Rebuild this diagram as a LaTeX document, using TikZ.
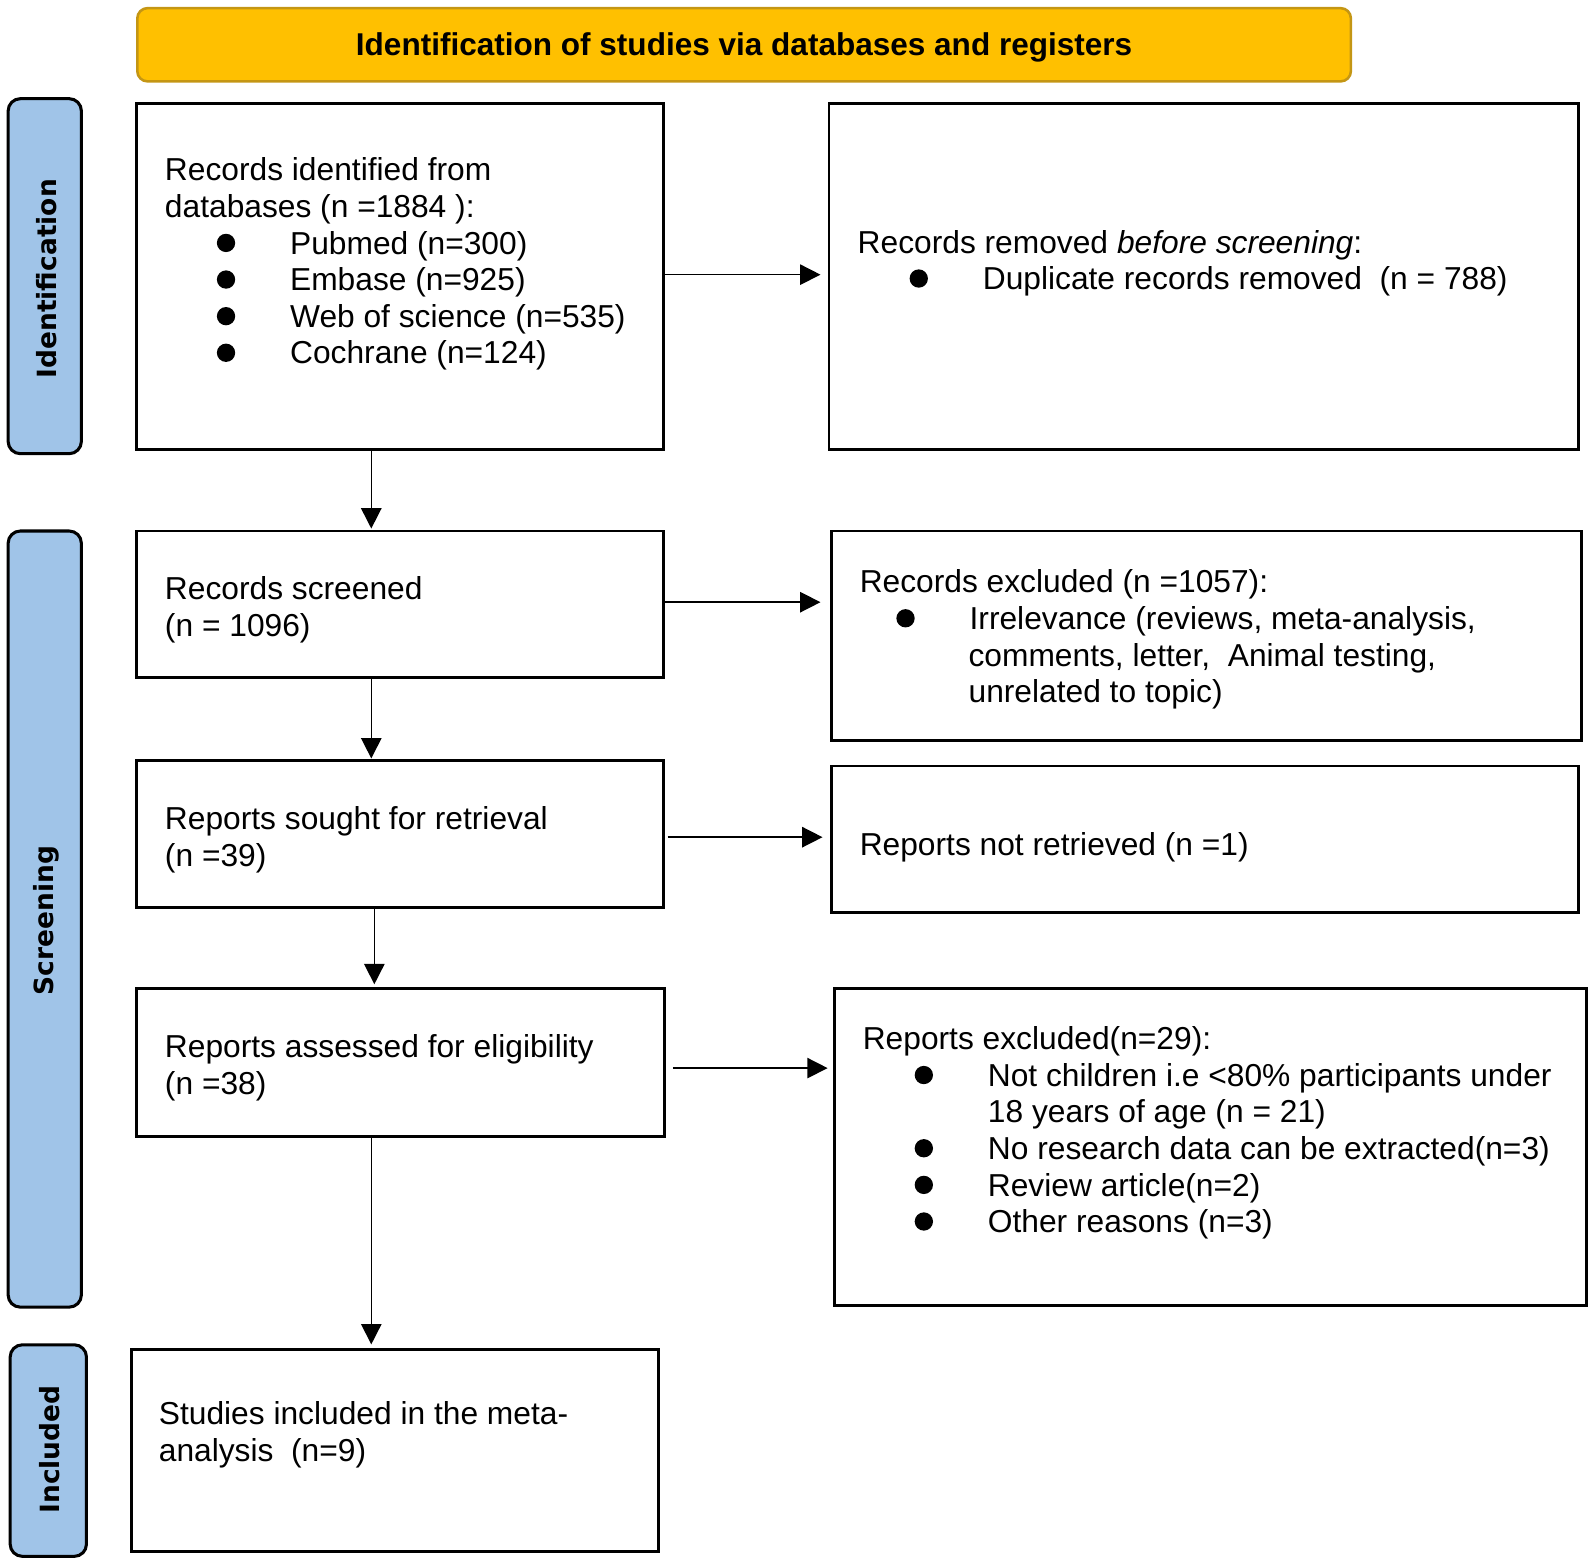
\documentclass[tikz,border=0pt]{standalone}
\usepackage{fontspec}
\setmainfont{Liberation Sans}
\newfontfamily\sidefont{DejaVu Sans}
\usetikzlibrary{arrows.meta}
\definecolor{hdrfill}{RGB}{255,192,0}
\definecolor{hdrline}{RGB}{196,150,20}
\definecolor{sidefill}{RGB}{160,196,232}
\newcommand\bitem[1][51pt]{\hspace*{#1}\makebox[72pt][l]{\raisebox{2pt}{\tikz\fill (0,0) circle[radius=9pt];}}}
\begin{document}
\begin{tikzpicture}[x=1pt,y=-1pt,
  box/.style={draw=black, line width=2.8pt, inner sep=0pt, fill=white},
  txt/.style={font=\fontsize{31.2}{36}\selectfont, align=left, inner sep=0pt, anchor=north west},
  side/.style={draw=black, line width=3pt, rounded corners=12pt, fill=sidefill, inner sep=0pt},
  sidelbl/.style={font=\sidefont\bfseries\fontsize{26}{30}\selectfont, rotate=90, inner sep=0pt},
  arr/.style={line width=1.5pt, -{Triangle[length=20pt,width=20pt]}}]
\useasboundingbox (0,0) rectangle (1568,1540);
% header
\node[draw=hdrline, line width=2.5pt, fill=hdrfill, rounded corners=10pt, minimum width=1193pt, minimum height=72pt, inner sep=0pt] (hdr) at (731.5,44) {};
\node[font=\bfseries\fontsize{31}{36}\selectfont, inner sep=0pt] (hdrt) at (731.5,47) {Identification of studies via databases and registers};
% side bars
\node[side, minimum width=72pt, minimum height=349pt] (sid) at (44,271.5) {};
\node[sidelbl] (sidt) at (46,274) {Identification};
\node[side, minimum width=72pt, minimum height=763pt] (sscr) at (44,903.5) {};
\node[sidelbl] (sscrt) at (46,905) {Screening};
\node[side, minimum width=75pt, minimum height=208pt] (sinc) at (47.5,1426) {};
\node[sidelbl] (sinct) at (49,1425) {Included};
% boxes
\node[box, minimum width=518pt, minimum height=340pt] (b1) at (393,272) {};
\node[box, minimum width=737pt, minimum height=340pt] (r1) at (1183.5,272) {};
\node[box, minimum width=518pt, minimum height=144pt] (b2) at (393,594) {};
\node[box, minimum width=738pt, minimum height=206pt] (r2) at (1186,625) {};
\node[box, minimum width=518pt, minimum height=144pt] (b3) at (393,820) {};
\node[box, minimum width=735pt, minimum height=144pt] (r3) at (1184.5,825) {};
\node[box, minimum width=519pt, minimum height=145pt] (b4) at (393.5,1044.5) {};
\node[box, minimum width=740pt, minimum height=311pt] (r4) at (1190,1127.5) {};
\node[box, minimum width=518pt, minimum height=198pt] (b5) at (388,1426) {};
% texts
\node[txt] (b1t) at (162,155) {Records identified from\\databases (n =1884 ):\\
\bitem Pubmed (n=300)\\\bitem Embase (n=925)\\\bitem Web of science (n=535)\\\bitem Cochrane (n=124)};
\node[txt] (r1t) at (843,226) {Records removed \textit{before screening}:\\
\bitem Duplicate records removed\ \ (n = 788)};
\node[txt] (b2t) at (162,567) {Records screened\\(n = 1096)};
\node[txt] (r2t) at (845,560) {Records excluded (n =1057):\\
\bitem[36pt]Irrelevance (reviews, meta-analysis,\\\hspace*{107pt}comments, letter,\ \ Animal testing,\\\hspace*{107pt}unrelated to topic)};
\node[txt] (b3t) at (162,793) {Reports sought for retrieval\\(n =39)};
\node[txt] (r3t) at (845,818) {Reports not retrieved (n =1)};
\node[txt] (b4t) at (162,1017) {Reports assessed for eligibility\\(n =38)};
\node[txt] (r4t) at (848,1009) {Reports excluded(n=29):\\
\bitem Not children i.e <80\% participants under\\\hspace*{123pt}18 years of age (n = 21)\\
\bitem No research data can be extracted(n=3)\\\bitem Review article(n=2)\\\bitem Other reasons (n=3)};
\node[txt] (b5t) at (156,1378) {Studies included in the meta-\\analysis\ \ (n=9)};
% arrows
\draw[arr, shorten >=7pt] ([yshift=2pt]b1.east) -- ([yshift=2pt]b1.east -| r1.west);
\draw[arr, shorten >=9pt] ([yshift=2pt]b2.east) -- ([yshift=2pt]b2.east -| r2.west);
\draw[arr, shorten <=3pt, shorten >=7pt] ([yshift=-3pt]b3.east) -- ([yshift=-3pt]b3.east -| r3.west);
\draw[arr, shorten <=7pt, shorten >=5pt] ([yshift=-5.5pt]b4.east) -- ([yshift=-5.5pt]b4.east -| r4.west);
\draw[arr, shorten >=1pt] ([xshift=-28pt]b1.south) -- ([xshift=-28pt]b1.south |- b2.north);
\draw[arr, shorten >=1pt] ([xshift=-28pt]b2.south) -- ([xshift=-28pt]b2.south |- b3.north);
\draw[arr, shorten >=3pt] ([xshift=-25pt]b3.south) -- ([xshift=-25pt]b3.south |- b4.north);
\draw[arr, shorten >=4pt] ([xshift=-28.5pt]b4.south) -- ([xshift=-28.5pt]b4.south |- b5.north);
\end{tikzpicture}
\end{document}
